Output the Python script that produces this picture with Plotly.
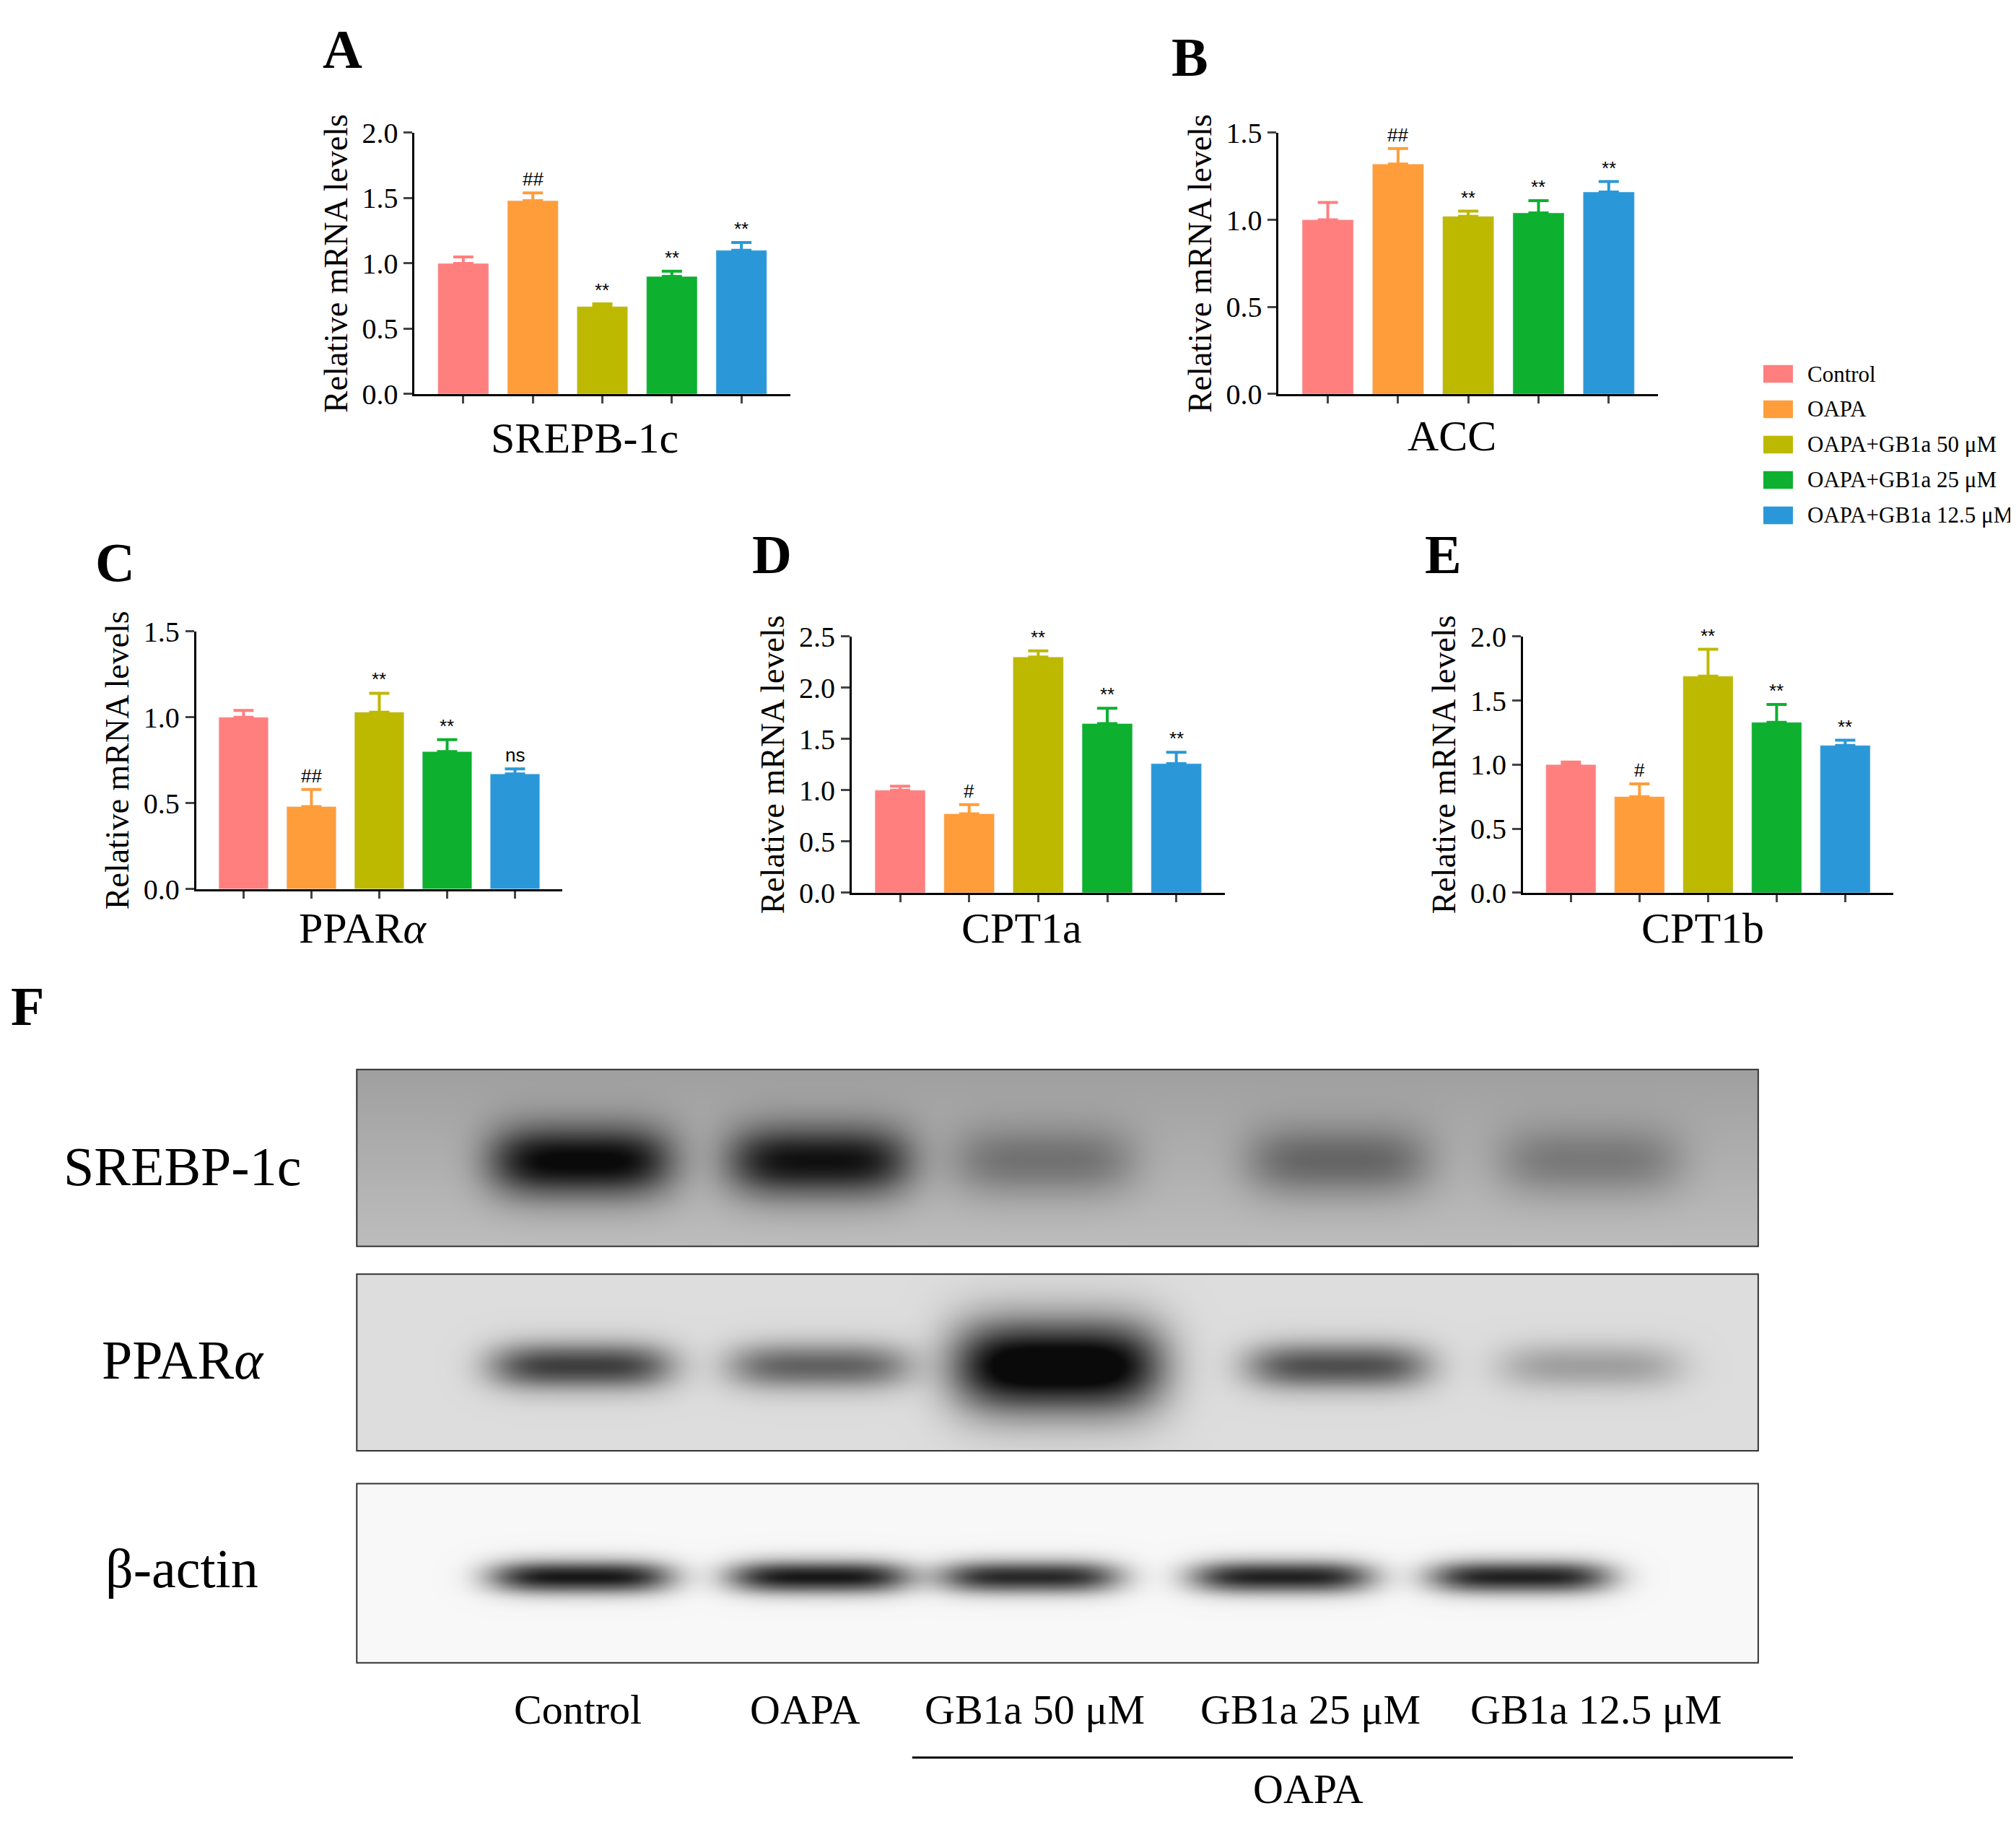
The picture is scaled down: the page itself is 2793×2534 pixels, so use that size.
import numpy as np
import plotly.graph_objects as go

W, H = 2793, 2534
groups = ["Control", "OAPA", "OAPA+GB1a 50 μM", "OAPA+GB1a 25 μM", "OAPA+GB1a 12.5 μM"]
colors = ["#FF7F7F", "#FF9D3A", "#BDB800", "#0DB02F", "#2A98D8"]

genes = ["SREPB-1c", "ACC", "PPAR<i>α</i>", "CPT1a", "CPT1b"]
letters = ["A", "B", "C", "D", "E"]
vals = {
    "A": [1.00, 1.48, 0.67, 0.90, 1.10],
    "B": [1.00, 1.32, 1.02, 1.04, 1.16],
    "C": [1.00, 0.48, 1.03, 0.80, 0.67],
    "D": [1.00, 0.77, 2.30, 1.65, 1.26],
    "E": [1.00, 0.75, 1.69, 1.33, 1.15],
}
errs = {
    "A": [0.05, 0.06, 0.02, 0.04, 0.06],
    "B": [0.10, 0.09, 0.03, 0.07, 0.06],
    "C": [0.04, 0.10, 0.11, 0.07, 0.03],
    "D": [0.04, 0.09, 0.06, 0.15, 0.11],
    "E": [0.02, 0.10, 0.21, 0.14, 0.04],
}
sig = {
    "A": ["", "##", "**", "**", "**"],
    "B": ["", "##", "**", "**", "**"],
    "C": ["", "##", "**", "**", "ns"],
    "D": ["", "#", "**", "**", "**"],
    "E": ["", "#", "**", "**", "**"],
}
ymax = {"A": 2.0, "B": 1.5, "C": 1.5, "D": 2.5, "E": 2.0}

blot_rows = ["SREBP-1c", "PPAR<i>α</i>", "β-actin"]
blot_bg = [0.27, 0.14, 0.03]
blot_int = [[0.70, 0.65, 0.25, 0.30, 0.22],
            [0.65, 0.50, 1.00, 0.58, 0.25],
            [0.92, 0.92, 0.85, 0.88, 0.88]]
blot_lanes = [[0.16, 0.33, 0.49, 0.70, 0.88],
              [0.16, 0.33, 0.50, 0.70, 0.88],
              [0.16, 0.33, 0.48, 0.66, 0.83]]
lane_labels = ["Control", "OAPA", "GB1a 50 μM", "GB1a 25 μM", "GB1a 12.5 μM"]

Wd, Hd = 1568, 1423
def px(x): return x / Wd
def py(y): return 1 - y / Hd

dom = {
    "A": ([318, 610], [295, 88]),
    "B": ([990, 1285], [295, 88]),
    "C": ([148, 433], [687, 483]),
    "D": ([658, 948], [690, 487]),
    "E": ([1180, 1468], [690, 487]),
}
gene_pos = {"A": (450, 330), "B": (1125, 328), "C": (278, 718), "D": (790, 718), "E": (1320, 718)}
letter_pos = {"A": (262, 22), "B": (921, 28), "C": (85, 428), "D": (596, 422), "E": (1118, 422)}

FONT = "Liberation Serif"
fig = go.Figure()
layout = dict(width=W, height=H, paper_bgcolor="white", plot_bgcolor="white",
              margin=dict(l=0, r=0, t=0, b=0), showlegend=False,
              font=dict(family=FONT, color="black"))
ann = []
shapes = []

def text(x, y, t, size, anchor="center"):
    ann.append(dict(x=px(x), y=py(y), xref="paper", yref="paper", text=t, showarrow=False,
                    xanchor=anchor, yanchor="middle", font=dict(size=size, family=FONT)))

for i, k in enumerate(letters):
    n = "" if i == 0 else str(i + 1)
    xa, ya = "x" + n, "y" + n
    fig.add_trace(go.Bar(x=list(range(5)), y=vals[k], marker_color=colors, width=0.73,
                         xaxis=xa, yaxis=ya))
    for j in range(5):
        fig.add_trace(go.Scatter(x=[j], y=[vals[k][j]], mode="markers", marker=dict(size=1, opacity=0),
                                 error_y=dict(type="data", array=[errs[k][j]], arrayminus=[0],
                                              symmetric=False, color=colors[j], thickness=4, width=14),
                                 xaxis=xa, yaxis=ya, hoverinfo="skip"))
        if sig[k][j]:
            ann.append(dict(x=j, y=vals[k][j] + errs[k][j], xref=xa, yref=ya, text=sig[k][j],
                            showarrow=False, xanchor="center", yanchor="bottom", yshift=2,
                            font=dict(size=26, family="Arial")))
    (x0, x1), (y0, y1) = dom[k]
    layout["xaxis" + n] = dict(domain=[px(x0), px(x1)], range=[-0.7, 4.7], showgrid=False,
                               zeroline=False, showline=True, linecolor="black", linewidth=3,
                               ticks="outside", tickvals=list(range(5)), ticklen=10, tickwidth=3,
                               showticklabels=False, anchor=ya, fixedrange=True)
    layout["yaxis" + n] = dict(domain=[py(y0), py(y1)], range=[0, ymax[k]], dtick=0.5,
                               tickformat=".1f", showgrid=False, zeroline=False, showline=True,
                               linecolor="black", linewidth=3, ticks="outside", ticklen=12, tickwidth=3,
                               tickfont=dict(size=40, family=FONT),
                               title=dict(text="Relative mRNA levels", font=dict(size=46, family=FONT),
                                          standoff=6),
                               anchor=xa)
    gx, gy = gene_pos[k]
    text(gx, gy, genes[i], 60)
    lx, ly = letter_pos[k]
    text(lx, ly, "<b>" + k + "</b>", 76)

for j, g in enumerate(groups):
    yy = 279 + 28 * j
    shapes.append(dict(type="rect", xref="paper", yref="paper", x0=px(1367), x1=px(1390),
                       y0=py(yy + 7), y1=py(yy - 7), fillcolor=colors[j], line=dict(width=0)))
    text(1400, yy, g, 31, "left")

boxes = [(830, 970), (992, 1132), (1158, 1300)]
bx = np.linspace(0, 1, 300)
by = np.linspace(0, 1, 80)
X, Y = np.meshgrid(bx, by)
for r in range(3):
    n = str(6 + r)
    z = np.full(X.shape, blot_bg[r])
    if r == 0:
        z = z + 0.12 * Y
    bh = [0.2, 0.13, 0.09][r]
    for c, a in zip(blot_lanes[r], blot_int[r]):
        big = (r == 1 and a > 0.95)
        wdt = 0.075 if big else 0.065
        hh = bh * (2.0 if big else 1)
        z = z + a * np.exp(-((X - c) / wdt) ** 4 - ((Y - 0.48) / hh) ** 2)
    z = np.clip(z, 0, 1)
    fig.add_trace(go.Heatmap(x=bx, y=by, z=z, colorscale=[[0, "#ffffff"], [1, "#0a0a0a"]],
                             zmin=0, zmax=1, showscale=False, zsmooth="best",
                             xaxis="x" + n, yaxis="y" + n, hoverinfo="skip"))
    y0, y1 = boxes[r]
    layout["xaxis" + n] = dict(domain=[px(273), px(1363)], range=[0, 1], visible=False, anchor="y" + n)
    layout["yaxis" + n] = dict(domain=[py(y1), py(y0)], range=[0, 1], visible=False, anchor="x" + n)
    shapes.append(dict(type="rect", xref="paper", yref="paper", x0=px(273), x1=px(1363),
                       y0=py(y1), y1=py(y0), line=dict(color="#333", width=2)))
text(137, 907, blot_rows[0], 76)
text(138, 1060, blot_rows[1], 76)
text(137, 1225, blot_rows[2], 76)

lane_x = [445, 622, 800, 1015, 1237]
for t, x in zip(lane_labels, lane_x):
    text(x, 1337, t, 58)
shapes.append(dict(type="line", xref="paper", yref="paper", x0=px(705), x1=px(1390),
                   y0=py(1375), y1=py(1375), line=dict(color="black", width=3)))
text(1013, 1400, "OAPA", 58)
text(17, 780, "<b>F</b>", 76)

layout["annotations"] = ann
layout["shapes"] = shapes
fig.update_layout(**layout)
fig.write_html("out.html")
